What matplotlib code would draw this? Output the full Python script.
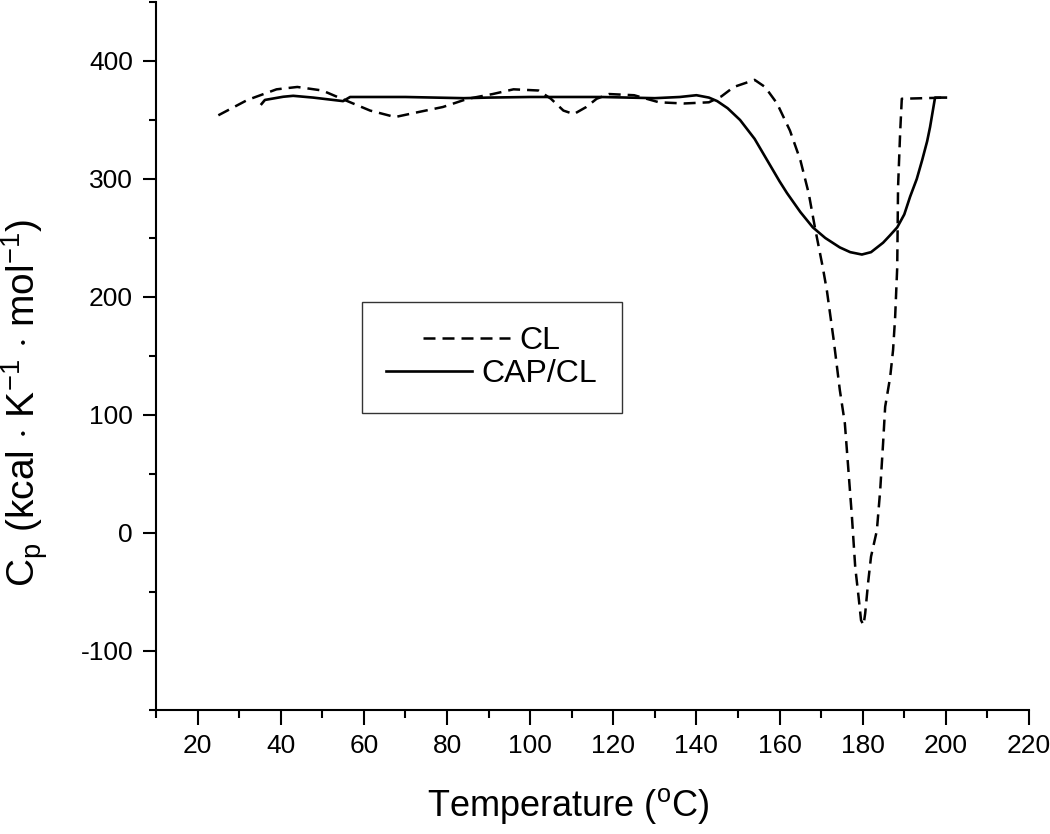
import matplotlib
matplotlib.use("Agg")
import matplotlib.pyplot as plt
import matplotlib.ticker as mticker

plt.rcParams['font.family'] = ['Liberation Sans', 'DejaVu Sans']
plt.rcParams['mathtext.fontset'] = 'custom'
plt.rcParams['mathtext.rm'] = 'Liberation Sans'
plt.rcParams['mathtext.it'] = 'Liberation Sans:italic'
plt.rcParams['axes.unicode_minus'] = False

# CL (dashed)
cl_temp = [25, 32, 39, 44, 50, 54, 61.5, 67.5, 73.5, 79, 85, 91, 96, 102, 105, 108,
           110.5, 113.5, 116, 119, 125, 131, 137, 143, 146, 149, 154, 156.5, 159.4,
           162.5, 165, 167, 168.5, 170.4, 171.4, 173, 174.5, 175.7, 176.5, 177.4, 178.2,
           179, 179.6, 180.2, 180.6, 181.3, 182, 183.4, 184.2, 184.9, 185.4, 186.6,
           187.3, 187.8, 188.3, 188.5, 189, 189.4, 200]
cl_cp = [354, 367, 376, 378, 375, 369, 358, 352.5, 357, 361, 368, 372, 376, 375, 368, 358,
         355, 361, 368, 372, 371, 365, 364, 365, 370, 378, 384, 378, 364,
         341, 316, 288, 259, 225, 205, 164, 121, 93, 56, 14, -29,
         -54, -74, -78, -68, -42, -20, 2, 36, 76, 107, 132,
         155, 183, 225, 293, 339, 368, 369]

# CAP/CL (solid)
cap_temp = [35.4, 36.2, 40.6, 43, 47.8, 52.6, 55, 56.7, 70, 84, 90, 100, 117, 130, 136,
            140, 143, 145, 147.5, 150.5, 154, 157, 160, 161.8, 165, 168, 171, 174.5, 177,
            179.8, 182, 184.9, 186.5, 188.3, 190, 191.4, 193, 194.3, 195.5, 196.2, 197.4, 200]
cap_cp = [363.6, 367, 369.7, 370.5, 369, 367, 366, 369.5, 369.5, 368.5, 369, 369.5, 369.5,
          368.5, 369.5, 371, 369, 366, 360, 350, 334, 316, 298, 288, 272, 259, 250, 242,
          238, 236, 238, 246, 252, 259, 270, 285, 300, 316, 332, 344, 369, 369]

x_ticks = [20, 40, 60, 80, 100, 120, 140, 160, 180, 200, 220]
y_ticks = [-100, 0, 100, 200, 300, 400]

fig = plt.figure(figsize=(10.5, 8.34), dpi=100)
ax = fig.add_axes([156 / 1050, 124 / 834, 873 / 1050, 708 / 834])

ax.plot(cl_temp, cl_cp, color='black', lw=1.8, ls=(0, (4.8, 2.8)), label='CL')
ax.plot(cap_temp, cap_cp, color='black', lw=1.9, ls='-', label='CAP/CL')

ax.set_xlim(10, 220)
ax.set_ylim(-150, 450)
ax.set_xticks(x_ticks)
ax.set_yticks(y_ticks)
ax.xaxis.set_minor_locator(mticker.MultipleLocator(10))
ax.yaxis.set_minor_locator(mticker.MultipleLocator(50))

for side in ['top', 'right']:
    ax.spines[side].set_visible(False)
for side in ['left', 'bottom']:
    ax.spines[side].set_linewidth(1.5)

ax.tick_params(axis='x', which='major', direction='out', length=10.5, width=1.5,
               labelsize=19, pad=6.5)
ax.tick_params(axis='x', which='minor', direction='out', length=6, width=1.5)
ax.tick_params(axis='y', which='major', direction='out', length=9.5, width=1.5,
               labelsize=19, pad=7)
ax.tick_params(axis='y', which='minor', direction='out', length=5, width=1.5)

ax.set_xlabel(r'Temperature ($^{\mathregular{o}}$C)', fontsize=26)
ax.xaxis.set_label_coords(0.472, -0.107)
ax.set_ylabel(r'C$_{\mathregular{p}}$ (kcal $\cdot$ K$^{\mathregular{-1}}$ $\cdot$ mol$^{\mathregular{-1}}$)',
              fontsize=28)
ax.yaxis.set_label_coords(-0.121, 0.434)

leg = ax.legend(loc='upper left', bbox_to_anchor=(0.236, 0.576), borderaxespad=0,
                fontsize=23, frameon=True, fancybox=False, edgecolor='black',
                handlelength=2.7, handletextpad=0.3, labelspacing=0.1,
                borderpad=0.75)
leg.get_frame().set_linewidth(1.0)
# entries are centred in the box, as in the original
for col in leg._legend_handle_box.get_children():
    col.align = 'center'

fig.savefig('out.png', dpi=100)
